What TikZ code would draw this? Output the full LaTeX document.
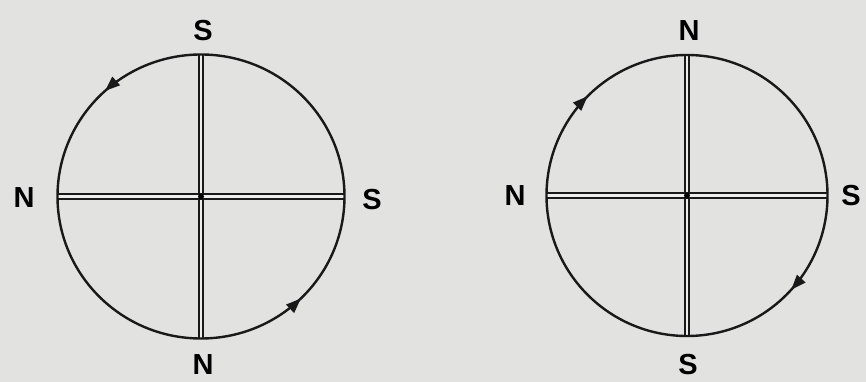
\documentclass[tikz,border=0pt]{standalone}
\usepackage{fontspec}
\setmainfont{Liberation Sans}
\usetikzlibrary{arrows.meta,decorations.markings}
\definecolor{paper}{RGB}{226,226,224}
\definecolor{gapcol}{RGB}{238,238,236}
\tikzset{
  pole/.style={font=\fontsize{29}{29}\selectfont\bfseries, inner sep=0pt},
  axisline/.style={line width=1.9pt, double=gapcol, double distance=2.4pt, draw=black!90},
  ring/.style={line width=2.4pt, draw=black!90},
  tipA/.tip={Triangle[length=15pt,width=11pt]},
}
\begin{document}
\begin{tikzpicture}[x=1pt,y=1pt]
\fill[paper] (0,0) rectangle (866,382);
\useasboundingbox (0,0) rectangle (866,382);
% left diagram
\coordinate (lc) at (201,185.5);
\coordinate (lt) at (201,327.5);
\coordinate (lb) at (201,43.5);
\coordinate (ll) at (57.5,185.5);
\coordinate (lr) at (344.5,185.5);
\draw[axisline] (lt) -- (lb);
\draw[axisline] (ll) -- (lr);
\draw[ring, postaction={decorate, decoration={markings,
   mark=at position 0.367 with {\arrow{tipA}},
   mark=at position 0.873 with {\arrow{tipA}}}}]
   (lc) ellipse [x radius=143.5, y radius=142];
\fill[black] (lc) circle[radius=3];
\node[pole] (lS1) at (203,351) {S};
\node[pole] (lN1) at (24,184) {N};
\node[pole] (lS2) at (372,182) {S};
\node[pole] (lN2) at (203,17) {N};
% right diagram
\coordinate (rc) at (687,186.5);
\coordinate (rt) at (687,327);
\coordinate (rb) at (687,46);
\coordinate (rl) at (547,186.5);
\coordinate (rr) at (827,186.5);
\draw[axisline] (rt) -- (rb);
\draw[axisline] (rl) -- (rr);
\draw[ring, postaction={decorate, decoration={markings,
   mark=at position 0.375 with {\arrowreversed{tipA}},
   mark=at position 0.883 with {\arrowreversed{tipA}}}}]
   (rc) circle[radius=140.5];
\fill[black] (rc) circle[radius=3];
\node[pole] (rN1) at (689,351) {N};
\node[pole] (rN2) at (515,186) {N};
\node[pole] (rS1) at (851,186) {S};
\node[pole] (rS2) at (688,17) {S};
\end{tikzpicture}
\end{document}
